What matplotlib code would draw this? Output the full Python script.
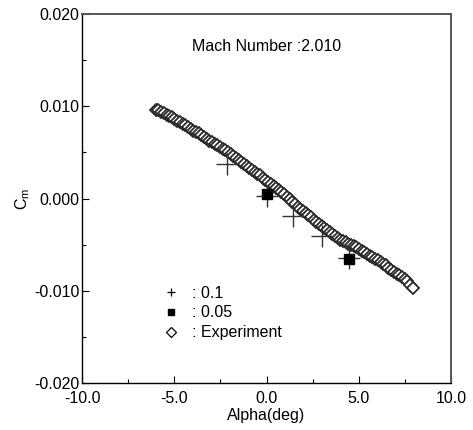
import numpy as np
import matplotlib.pyplot as plt
from matplotlib.lines import Line2D

plt.rcParams['font.family'] = ['Liberation Sans', 'DejaVu Sans']
plt.rcParams['mathtext.fontset'] = 'custom'
plt.rcParams['mathtext.rm'] = 'Liberation Sans'

# Experiment, Mach 2.01
alpha_exp = [
    -6.00, -5.86, -5.71, -5.57, -5.42, -5.28, -5.13, -4.99, -4.84, -4.70,
    -4.55, -4.41, -4.26, -4.12, -3.97, -3.83, -3.68, -3.54, -3.39, -3.25,
    -3.10, -2.96, -2.81, -2.67, -2.52, -2.38, -2.23, -2.09, -1.94, -1.80,
    -1.65, -1.51, -1.36, -1.22, -1.07, -0.93, -0.78, -0.64, -0.49, -0.35,
    -0.20, -0.06, 0.09, 0.23, 0.38, 0.52, 0.67, 0.81, 0.96, 1.10,
    1.25, 1.39, 1.54, 1.68, 1.83, 1.97, 2.12, 2.26, 2.41, 2.55,
    2.70, 2.84, 2.99, 3.13, 3.28, 3.42, 3.57, 3.71, 3.86, 4.00,
    4.15, 4.29, 4.44, 4.58, 4.73, 4.87, 5.02, 5.16, 5.31, 5.45,
    5.60, 5.74, 5.89, 6.03, 6.18, 6.32, 6.47, 6.61, 6.76, 6.90,
    7.05, 7.19, 7.34, 7.48, 7.63, 7.77, 7.92,
]
cm_exp = [
    0.00962, 0.00955, 0.00940, 0.00922, 0.00905, 0.00893, 0.00880, 0.00862, 0.00843, 0.00825,
    0.00808, 0.00795, 0.00780, 0.00758, 0.00735, 0.00722, 0.00710, 0.00692, 0.00670, 0.00648,
    0.00627, 0.00608, 0.00592, 0.00576, 0.00555, 0.00538, 0.00522, 0.00505, 0.00482, 0.00460,
    0.00438, 0.00415, 0.00395, 0.00376, 0.00355, 0.00335, 0.00312, 0.00292, 0.00270, 0.00250,
    0.00225, 0.00200, 0.00178, 0.00160, 0.00140, 0.00115, 0.00090, 0.00068, 0.00045, 0.00020,
    -0.00008, -0.00035, -0.00062, -0.00088, -0.00112, -0.00135, -0.00158, -0.00180, -0.00205, -0.00230,
    -0.00255, -0.00278, -0.00300, -0.00320, -0.00342, -0.00365, -0.00388, -0.00410, -0.00430, -0.00448,
    -0.00462, -0.00475, -0.00490, -0.00505, -0.00518, -0.00530, -0.00548, -0.00565, -0.00585, -0.00602,
    -0.00618, -0.00635, -0.00652, -0.00670, -0.00688, -0.00705, -0.00725, -0.00748, -0.00772, -0.00795,
    -0.00815, -0.00832, -0.00850, -0.00872, -0.00898, -0.00935, -0.00965,
]

# computed, step 0.1
alpha_01 = [-2.14, 0.03, 1.44, 3.00, 4.47]
cm_01 = [0.00370, 0.00025, -0.00195, -0.00410, -0.00640]

# computed, step 0.05
alpha_005 = [0.03, 4.47]
cm_005 = [0.00054, -0.00660]

fig = plt.figure(figsize=(4.73, 4.30), dpi=100)
ax = fig.add_axes([0.1734, 0.1093, 0.7801, 0.8581])

ax.plot(alpha_exp, cm_exp, 'D', ms=6, mfc='white', mec='#2a2a2a', mew=1.3, ls='none')
ax.plot(alpha_01, cm_01, '+', ms=16, color='#333333', mew=1.0, ls='none')
ax.plot(alpha_005, cm_005, 's', ms=7.5, color='black', ls='none')

ax.set_xlim(-10, 10)
ax.set_ylim(-0.02, 0.02)
ax.set_xticks([-10, -5, 0, 5, 10])
ax.set_xticks([-7.5, -2.5, 2.5, 7.5], minor=True)
ax.set_yticks([-0.02, -0.01, 0.0, 0.01, 0.02])
ax.set_yticks([-0.015, -0.005, 0.005, 0.015], minor=True)
ax.set_xticklabels(['-10.0', '-5.0', '0.0', '5.0', '10.0'])
ax.set_yticklabels(['-0.020', '-0.010', '0.000', '0.010', '0.020'])
ax.tick_params(which='both', direction='in', top=False, right=False,
               labelsize=11.5, width=0.8)
ax.tick_params(axis='y', pad=2)
ax.tick_params(axis='x', pad=6)
ax.tick_params(which='major', length=5)
ax.tick_params(which='minor', length=3)

for side in ['left', 'bottom']:
    ax.spines[side].set_linewidth(1.0)
    ax.spines[side].set_color('black')
for side in ['top', 'right']:
    ax.spines[side].set_linewidth(1.4)
    ax.spines[side].set_color('#555555')

ax.set_xlabel('Alpha(deg)', fontsize=11.5, labelpad=1)
ax.set_ylabel(r'C$_{\mathrm{m}}$', fontsize=11.5, labelpad=1)

ax.text(-4.05, 0.0165, 'Mach Number :2.010', fontsize=11.5, ha='left', va='center')

handles = [
    Line2D([], [], marker='+', ms=6, color='black', mew=0.9, ls='none'),
    Line2D([], [], marker='s', ms=5, color='black', ls='none'),
    Line2D([], [], marker='D', ms=5, mfc='white', mec='black', mew=0.9, ls='none'),
]
ax.legend(handles, [': 0.1', ': 0.05', ': Experiment'], loc='upper left',
          bbox_to_anchor=(0.22, 0.264), frameon=False, fontsize=11.5,
          handlelength=1.0, handletextpad=0.8, labelspacing=0.3,
          borderpad=0, borderaxespad=0)

fig.savefig('out.png', dpi=100)
